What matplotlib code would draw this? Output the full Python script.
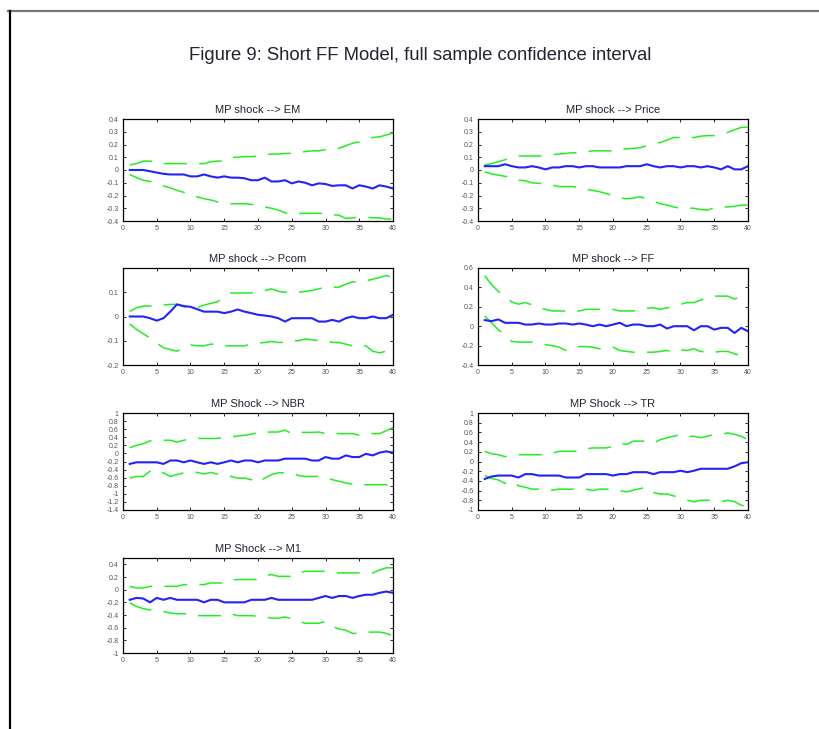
import matplotlib
matplotlib.use("Agg")
import matplotlib.pyplot as plt
from matplotlib.lines import Line2D
import numpy as np

plt.rcParams['font.family'] = ['Liberation Sans Narrow', 'Liberation Sans', 'DejaVu Sans']

horizon = list(range(1, 41))

# MP shock --> EM
em_irf = [0, 0, 0, -0.01, -0.02, -0.03, -0.035, -0.035, -0.035, -0.05,
          -0.05, -0.035, -0.05, -0.06, -0.05, -0.06, -0.06, -0.065, -0.08, -0.08,
          -0.06, -0.09, -0.09, -0.08, -0.105, -0.09, -0.1, -0.12, -0.105, -0.11,
          -0.125, -0.12, -0.12, -0.145, -0.12, -0.13, -0.145, -0.12, -0.13, -0.145]
em_hi = [0.04, 0.05, 0.07, 0.07, 0.06, 0.05, 0.05, 0.05, 0.05, 0.05,
         0.05, 0.05, 0.065, 0.07, 0.07, 0.1, 0.1, 0.105, 0.105, 0.11,
         0.12, 0.125, 0.125, 0.13, 0.13, 0.135, 0.145, 0.15, 0.15, 0.16,
         0.17, 0.17, 0.19, 0.21, 0.22, 0.24, 0.255, 0.26, 0.275, 0.29]
em_lo = [-0.035, -0.06, -0.08, -0.09, -0.11, -0.125, -0.14, -0.16, -0.175, -0.2,
         -0.21, -0.225, -0.235, -0.25, -0.25, -0.265, -0.265, -0.265, -0.27, -0.275,
         -0.29, -0.3, -0.315, -0.335, -0.35, -0.34, -0.34, -0.34, -0.34, -0.34,
         -0.35, -0.355, -0.38, -0.375, -0.37, -0.37, -0.375, -0.375, -0.385, -0.385]

# MP shock --> Price
price_irf = [0.03, 0.03, 0.03, 0.045, 0.03, 0.02, 0.02, 0.03, 0.02, 0.005,
             0.02, 0.02, 0.03, 0.03, 0.02, 0.03, 0.03, 0.02, 0.02, 0.02,
             0.02, 0.03, 0.03, 0.03, 0.045, 0.03, 0.02, 0.03, 0.03, 0.02,
             0.03, 0.03, 0.02, 0.03, 0.02, 0.005, 0.03, 0.005, 0.005, 0.03]
price_hi = [0.04, 0.05, 0.065, 0.08, 0.1, 0.11, 0.11, 0.11, 0.11, 0.11,
            0.12, 0.125, 0.13, 0.135, 0.135, 0.145, 0.15, 0.15, 0.15, 0.15,
            0.165, 0.165, 0.17, 0.175, 0.19, 0.21, 0.215, 0.235, 0.255, 0.255,
            0.255, 0.255, 0.265, 0.27, 0.27, 0.28, 0.295, 0.315, 0.335, 0.335]
price_lo = [-0.015, -0.03, -0.04, -0.05, -0.055, -0.08, -0.085, -0.1, -0.105, -0.105,
            -0.12, -0.13, -0.13, -0.13, -0.14, -0.15, -0.16, -0.17, -0.185, -0.2,
            -0.22, -0.225, -0.22, -0.21, -0.225, -0.245, -0.265, -0.275, -0.29, -0.3,
            -0.3, -0.3, -0.31, -0.315, -0.295, -0.29, -0.29, -0.285, -0.275, -0.275]

# MP shock --> Pcom
pcom_irf = [0, 0, 0, -0.007, -0.017, -0.007, 0.02, 0.05, 0.043, 0.04,
            0.03, 0.02, 0.02, 0.02, 0.014, 0.02, 0.029, 0.02, 0.014, 0.007,
            0.004, 0, -0.007, -0.021, -0.007, -0.007, -0.007, -0.007, -0.021, -0.021,
            -0.014, -0.021, -0.007, 0, -0.007, -0.007, 0, -0.007, -0.007, 0.007]
pcom_hi = [0.021, 0.036, 0.043, 0.043, 0.047, 0.047, 0.05, 0.05, 0.04, 0.036,
           0.036, 0.047, 0.054, 0.061, 0.079, 0.097, 0.097, 0.097, 0.097, 0.104,
           0.107, 0.114, 0.104, 0.1, 0.104, 0.1, 0.104, 0.107, 0.114, 0.121,
           0.121, 0.121, 0.133, 0.143, 0.143, 0.147, 0.154, 0.161, 0.169, 0.161]
pcom_lo = [-0.031, -0.053, -0.071, -0.089, -0.11, -0.129, -0.136, -0.143, -0.131, -0.117,
           -0.121, -0.121, -0.114, -0.114, -0.121, -0.121, -0.121, -0.121, -0.114, -0.11,
           -0.107, -0.103, -0.107, -0.107, -0.1, -0.1, -0.093, -0.096, -0.1, -0.1,
           -0.107, -0.107, -0.114, -0.121, -0.121, -0.121, -0.143, -0.15, -0.143, -0.167]

# MP shock --> FF
ff_irf = [0.063, 0.052, 0.07, 0.035, 0.035, 0.035, 0.017, 0.017, 0.028, 0.017,
          0.017, 0.028, 0.028, 0.017, 0.028, 0.017, 0, 0.017, 0, 0.017,
          0.035, 0, 0.017, 0.017, 0, 0, 0.017, -0.024, 0, 0,
          0, -0.042, 0, 0, -0.035, -0.017, -0.017, -0.07, -0.017, -0.052]
ff_hi = [0.52, 0.43, 0.36, 0.31, 0.25, 0.227, 0.244, 0.22, 0.19, 0.174,
         0.157, 0.157, 0.157, 0.157, 0.157, 0.174, 0.174, 0.174, 0.174, 0.174,
         0.157, 0.157, 0.157, 0.174, 0.185, 0.19, 0.174, 0.19, 0.2, 0.227,
         0.244, 0.244, 0.27, 0.296, 0.31, 0.31, 0.31, 0.28, 0.31, 0.31]
ff_lo = [0.105, 0.035, -0.035, -0.094, -0.157, -0.164, -0.164, -0.164, -0.18, -0.19,
         -0.2, -0.216, -0.25, -0.216, -0.21, -0.21, -0.216, -0.233, -0.233, -0.216,
         -0.25, -0.26, -0.268, -0.268, -0.268, -0.268, -0.26, -0.25, -0.268, -0.244,
         -0.25, -0.233, -0.26, -0.268, -0.268, -0.26, -0.26, -0.285, -0.303, -0.303]

# MP Shock --> NBR
nbr_irf = [-0.26, -0.22, -0.22, -0.22, -0.22, -0.26, -0.175, -0.175, -0.22, -0.175,
           -0.22, -0.26, -0.22, -0.26, -0.22, -0.175, -0.22, -0.175, -0.175, -0.22,
           -0.175, -0.175, -0.175, -0.13, -0.13, -0.13, -0.13, -0.175, -0.175, -0.09,
           -0.13, -0.13, -0.05, -0.09, -0.09, -0.01, -0.05, 0.02, 0.05, 0.02]
nbr_hi = [0.14, 0.2, 0.24, 0.31, 0.325, 0.325, 0.325, 0.28, 0.325, 0.37,
          0.37, 0.37, 0.37, 0.37, 0.41, 0.41, 0.43, 0.45, 0.475, 0.52,
          0.52, 0.53, 0.53, 0.575, 0.49, 0.52, 0.52, 0.52, 0.53, 0.49,
          0.49, 0.49, 0.49, 0.49, 0.45, 0.49, 0.49, 0.49, 0.56, 0.64]
nbr_lo = [-0.61, -0.57, -0.57, -0.44, -0.525, -0.48, -0.57, -0.525, -0.48, -0.47,
          -0.47, -0.51, -0.47, -0.51, -0.51, -0.57, -0.61, -0.61, -0.65, -0.73,
          -0.61, -0.525, -0.48, -0.48, -0.47, -0.55, -0.57, -0.57, -0.57, -0.57,
          -0.65, -0.69, -0.73, -0.76, -0.775, -0.775, -0.775, -0.775, -0.775, -0.86]

# MP Shock --> TR
tr_irf = [-0.36, -0.31, -0.29, -0.29, -0.29, -0.33, -0.26, -0.26, -0.29, -0.29,
          -0.29, -0.29, -0.33, -0.33, -0.33, -0.26, -0.26, -0.26, -0.26, -0.29,
          -0.26, -0.26, -0.22, -0.22, -0.22, -0.26, -0.22, -0.22, -0.22, -0.19,
          -0.22, -0.19, -0.15, -0.15, -0.15, -0.15, -0.15, -0.1, -0.035, -0.015]
tr_hi = [0.21, 0.16, 0.14, 0.1, 0.14, 0.14, 0.14, 0.14, 0.14, 0.14,
         0.17, 0.21, 0.21, 0.21, 0.21, 0.26, 0.28, 0.28, 0.28, 0.31,
         0.38, 0.35, 0.42, 0.42, 0.42, 0.38, 0.45, 0.49, 0.52, 0.56,
         0.52, 0.52, 0.49, 0.52, 0.56, 0.56, 0.59, 0.56, 0.52, 0.45]
tr_lo = [-0.29, -0.35, -0.38, -0.45, -0.4, -0.5, -0.53, -0.57, -0.57, -0.6,
         -0.59, -0.57, -0.57, -0.57, -0.57, -0.57, -0.6, -0.57, -0.57, -0.57,
         -0.6, -0.625, -0.59, -0.56, -0.53, -0.64, -0.67, -0.67, -0.71, -0.74,
         -0.8, -0.83, -0.8, -0.8, -0.8, -0.83, -0.8, -0.83, -0.9, -0.95]

# MP Shock --> M1
m1_irf = [-0.16, -0.13, -0.14, -0.2, -0.13, -0.16, -0.13, -0.16, -0.16, -0.16,
          -0.16, -0.2, -0.16, -0.16, -0.2, -0.2, -0.2, -0.2, -0.16, -0.16,
          -0.16, -0.13, -0.16, -0.16, -0.16, -0.16, -0.16, -0.16, -0.13, -0.1,
          -0.13, -0.1, -0.1, -0.13, -0.1, -0.08, -0.08, -0.05, -0.03, -0.05]
m1_hi = [0.053, 0.027, 0.027, 0.053, 0.053, 0.053, 0.053, 0.053, 0.08, 0.08,
         0.08, 0.08, 0.106, 0.106, 0.106, 0.15, 0.16, 0.16, 0.16, 0.16,
         0.21, 0.24, 0.21, 0.21, 0.21, 0.265, 0.29, 0.29, 0.29, 0.29,
         0.265, 0.265, 0.265, 0.265, 0.265, 0.265, 0.265, 0.31, 0.345, 0.345]
m1_lo = [-0.21, -0.265, -0.3, -0.32, -0.32, -0.345, -0.37, -0.38, -0.38, -0.38,
         -0.41, -0.41, -0.41, -0.41, -0.41, -0.38, -0.41, -0.41, -0.41, -0.42,
         -0.43, -0.45, -0.45, -0.43, -0.46, -0.5, -0.53, -0.53, -0.53, -0.5,
         -0.58, -0.62, -0.64, -0.69, -0.69, -0.67, -0.67, -0.67, -0.69, -0.73]

titles = ["MP shock --> EM", "MP shock --> Price", "MP shock --> Pcom", "MP shock --> FF",
          "MP Shock --> NBR", "MP Shock --> TR", "MP Shock --> M1"]
irfs = [em_irf, price_irf, pcom_irf, ff_irf, nbr_irf, tr_irf, m1_irf]
uppers = [em_hi, price_hi, pcom_hi, ff_hi, nbr_hi, tr_hi, m1_hi]
lowers = [em_lo, price_lo, pcom_lo, ff_lo, nbr_lo, tr_lo, m1_lo]
ylims = [(-0.4, 0.4), (-0.4, 0.4), (-0.2, 0.2), (-0.4, 0.6), (-1.4, 1.0), (-1.0, 1.0), (-1.0, 0.5)]
yticks = [np.arange(-0.4, 0.41, 0.1), np.arange(-0.4, 0.41, 0.1), [-0.2, -0.1, 0, 0.1],
          np.arange(-0.4, 0.61, 0.2), np.arange(-1.4, 1.01, 0.2), np.arange(-1.0, 1.01, 0.2),
          np.arange(-1.0, 0.41, 0.2)]

W, H = 820, 729
fig = plt.figure(figsize=(W / 100, H / 100), dpi=100)

# page frame: grey top rule, black left rule
fig.add_artist(Line2D([8 / W, 1], [1 - 11 / H] * 2, color='#777777', lw=1.6))
fig.add_artist(Line2D([10.5 / W] * 2, [0, 1 - 11 / H], color='black', lw=1.6))

fig.text(420 / W, 1 - 55 / H, "Figure 9: Short FF Model, full sample confidence interval",
         ha='center', va='center', fontsize=13.3, color='#222233')

col_left = [123, 478]
row_box = [(119, 221), (268, 365), (413, 510), (558, 653)]


def fmt(v):
    s = f"{v:.1f}".rstrip('0').rstrip('.')
    return "0" if s in ("-0", "0") else s


for i in range(7):
    top, bot = row_box[i // 2]
    left = col_left[i % 2]
    ax = fig.add_axes([left / W, 1 - bot / H, 270 / W, (bot - top) / H])
    ax.plot(horizon, uppers[i], color='#22ee22', lw=1.1, dashes=(15, 8))
    ax.plot(horizon, lowers[i], color='#22ee22', lw=1.1, dashes=(15, 8))
    ax.plot(horizon, irfs[i], color='#2222ff', lw=1.5)
    ax.set_xlim(0, 40)
    ax.set_ylim(*ylims[i])
    ax.set_xticks(range(0, 41, 5))
    ax.set_yticks(yticks[i])
    ax.set_yticklabels([fmt(v) for v in yticks[i]])
    ax.tick_params(direction='in', length=2, width=0.6, labelsize=5, colors='black',
                   labelcolor='#555555', top=True, right=True, pad=3)
    for sp in ax.spines.values():
        sp.set_linewidth(0.9)
    ax.set_title(titles[i], fontsize=8, color='#222233', pad=4)

fig.savefig("out.png", dpi=100, facecolor='white')
